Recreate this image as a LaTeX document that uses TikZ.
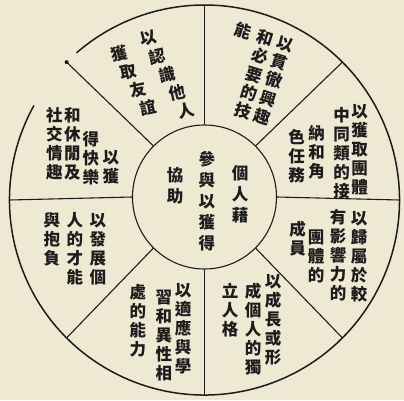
\documentclass[tikz,border=0pt]{standalone}
\usepackage{fontspec}
\newfontfamily\cjk{Noto Sans CJK TC}
\definecolor{paper}{HTML}{EEE9D2}
\definecolor{ink}{HTML}{1C1C1C}
% one column of upright characters, one per row
\newcommand{\vcol}[1]{\vtop{\let\\\cr\halign{\hfil##\hfil\cr#1\crcr}}}

\begin{document}
\begin{tikzpicture}[x=1pt, y=1pt,
    colm/.style={font=\cjk\bfseries\fontsize{16.5}{#1}\selectfont, text=ink, align=center, inner sep=0pt},
    colm/.default=19,
    sect/.style={font=\cjk\bfseries\fontsize{16.5}{#1}\selectfont, text=ink, inner sep=0pt, anchor=base east},
    sect/.default=19,
    glyph/.style={font=\cjk\bfseries\fontsize{16.5}{19}\selectfont, text=ink, inner sep=0pt, rotate=12},
    spoke/.style={draw=ink, line width=1.1pt},
    rim/.style={draw=ink, line width=1.5pt}]
    % Paper
    \fill[paper] (-204.5,-200) rectangle (199.5,200);
    \useasboundingbox (-204.5,-200) rectangle (199.5,200);

    % Inner circle and outer ring
    \node[circle, draw=ink, line width=1.1pt, minimum size=144pt, inner sep=0pt] (core) at (0,3) {};
    \draw[rim] (151:195pt) arc[start angle=151, end angle=491, radius=195pt];

    % Spokes
    \foreach \a in {0,45,...,315} {
        \coordinate (o\a) at (\a:195pt);
        \draw[spoke] (core.\a) -- (o\a);
    }
    \fill[ink] (o135) circle (2pt);

    % Centre
    \node[colm=21] (hub1) at (35.5,6) {個\\人\\藉};
    \node[colm=21] (hub2) at (2.5,-1) {參\\與\\以\\獲\\得};
    \node[colm=21] (hub3) at (-29.5,14) {協\\助};

    % Top left, slanted columns
    \foreach \ch [count=\i from 0] in {以,認,識,他,人}
        \node[glyph] (meetA\i) at (-56.5+9.62*\i, 162-18.1*\i) {\ch};
    \foreach \ch [count=\i from 0] in {獲,取,友,誼}
        \node[glyph] (meetB\i) at (-85.6+9.62*\i, 146.5-18.1*\i) {\ch};

    % Top right
    \node[sect, rotate=-17] (skill) at (86.6,147.6)
        {\vcol{能}\hspace{7.5pt}\vcol{和\\必\\要\\的\\技}\hspace{3.5pt}\vcol{以\\貫\\徹\\興\\趣}};

    % Upper right
    \node[colm] (group1) at (155,50) {以\\獲\\取\\團\\體};
    \node[colm] (group2) at (137,47) {中\\同\\類\\的\\接};
    \node[colm] (group3) at (112,48) {納\\和\\角};
    \node[colm] (group4) at (92,44) {色\\任\\務};

    % Lower right
    \node[colm] (belong1) at (154.5,-57) {以\\歸\\屬\\於\\較};
    \node[colm] (belong2) at (133.5,-55) {有\\影\\響\\力\\的};
    \node[colm] (belong3) at (111.5,-56) {團\\體\\的};
    \node[colm] (belong4) at (93,-39) {成\\員};

    % Bottom right
    \node[colm] (grow1) at (68.5,-120) {以\\成\\長\\或\\形};
    \node[colm] (grow2) at (48.5,-129) {成\\個\\人\\的\\獨};
    \node[colm] (grow3) at (25.5,-110) {立\\人\\格};

    % Bottom left
    \node[colm] (adapt1) at (-21.5,-128.5) {以\\適\\應\\與\\學};
    \node[colm] (adapt2) at (-40.5,-135.5) {習\\和\\異\\性\\相};
    \node[colm] (adapt3) at (-66.5,-120.5) {處\\的\\能\\力};

    % Lower left
    \node[colm] (talent1) at (-106.5,-49) {以\\發\\展\\個};
    \node[colm] (talent2) at (-129.5,-49) {人\\的\\才\\能};
    \node[colm] (talent3) at (-152.5,-39) {與\\抱\\負};

    % Upper left
    \node[colm] (leisure1) at (-93.5,32.5) {以\\獲};
    \node[colm] (leisure2) at (-113.5,41.5) {得\\快\\樂};
    \node[colm] (leisure3) at (-132,56) {和\\休\\閒\\及};
    \node[colm] (leisure4) at (-150,56.5) {社\\交\\情\\趣};
\end{tikzpicture}
\end{document}
